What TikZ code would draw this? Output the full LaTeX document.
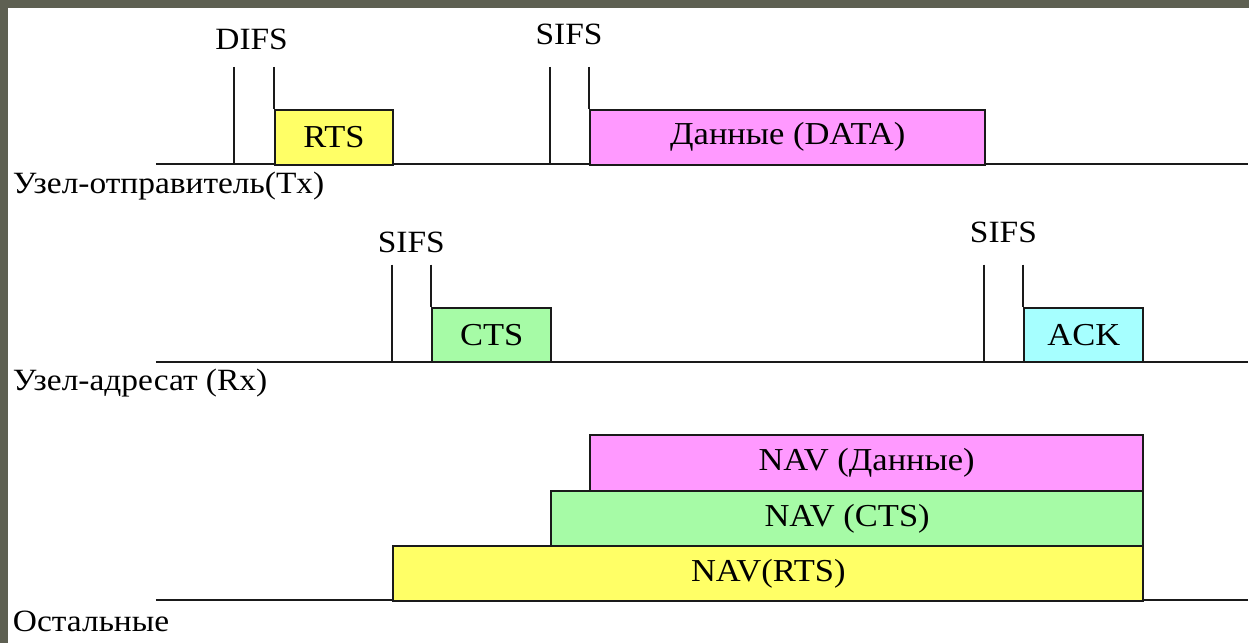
\documentclass[tikz,border=0pt]{standalone}
\usepackage{fontspec}
\setmainfont[FakeStretch=1.08]{Liberation Serif}
\definecolor{ylw}{HTML}{FFFF66}
\definecolor{pnk}{HTML}{FF99FF}
\definecolor{grn}{HTML}{A6FBA6}
\definecolor{cyn}{HTML}{A6FFFF}
\definecolor{frm}{HTML}{5E6052}
\definecolor{ln}{HTML}{1A1A1A}
\begin{document}
\begin{tikzpicture}[x=1pt,y=-1pt,
  line width=2pt,
  every path/.style={draw=ln},
  pkt/.style={draw=ln, line width=2pt, anchor=north west, inner sep=0pt,
    font=\fontsize{32}{38}\selectfont, text=black, minimum height=55pt},
  lbl/.style={inner sep=0pt, font=\fontsize{31}{37}\selectfont, text=black},
  side/.style={lbl, anchor=west}]
\useasboundingbox (0,0) rectangle (1249,642);
\fill[frm] (0,0) rectangle (1249,642);
\fill[white] (8,8) rectangle (1249,642);

% --- Tx line
\coordinate (tx0) at (155,163);
\coordinate (tx1) at (1249,163);
\draw (tx0) -- (tx1);
\node[pkt, fill=ylw, minimum width=119pt] (rts) at (273,108) {RTS};
\node[pkt, fill=pnk, minimum width=396pt] (data) at (589,108) {Данные (DATA)};
\coordinate (difsA) at (233,66);
\coordinate (difsB) at (273,66);
\coordinate (sifsA) at (550,66);
\coordinate (sifsB) at (589,66);
\draw (difsA) -- (difsA |- tx0);
\draw (difsB) -- (rts.north west);
\draw (sifsA) -- (sifsA |- tx0);
\draw (sifsB) -- (data.north west);
\node[lbl] (difs) at (251,38) {DIFS};
\node[lbl] (sifs1) at (569,33) {SIFS};
\node[side] (txl) at (11,185) {Узел-отправитель(Tx)};

% --- Rx line
\coordinate (rx0) at (155,362);
\coordinate (rx1) at (1249,362);
\draw (rx0) -- (rx1);
\node[pkt, fill=grn, minimum width=119pt] (cts) at (431,306) {CTS};
\node[pkt, fill=cyn, minimum width=119pt] (ack) at (1024,306) {ACK};
\coordinate (sifsC) at (392,264);
\coordinate (sifsD) at (431,264);
\coordinate (sifsE) at (985,264);
\coordinate (sifsF) at (1024,264);
\draw (sifsC) -- (sifsC |- rx0);
\draw (sifsD) -- (cts.north west);
\draw (sifsE) -- (sifsE |- rx0);
\draw (sifsF) -- (ack.north west);
\node[lbl] (sifs2) at (411,242) {SIFS};
\node[lbl] (sifs3) at (1004,232) {SIFS};
\node[side] (rxl) at (11,383) {Узел-адресат (Rx)};

% --- Others
\coordinate (ot0) at (155,600);
\coordinate (ot1) at (1249,600);
\draw (ot0) -- (ot1);
\node[pkt, fill=ylw, minimum width=751pt] (navrts) at (392,545) {NAV(RTS)};
\node[pkt, fill=grn, minimum width=593pt] (navcts) at (550,490) {NAV (CTS)};
\node[pkt, fill=pnk, minimum width=554pt, minimum height=56pt] (navdata) at (589,434) {NAV (Данные)};
\node[side] (otl) at (11,621) {Остальные};
\end{tikzpicture}
\end{document}
